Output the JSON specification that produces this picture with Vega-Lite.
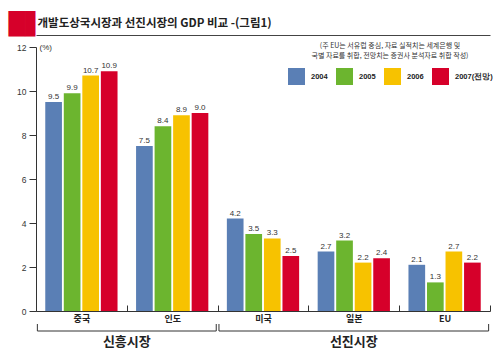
{
  "$schema": "https://vega.github.io/schema/vega-lite/v6.json",
  "background": "white",
  "padding": {"left": 8, "top": 13, "right": 6, "bottom": 0},
  "config": {
    "font": "Noto Sans CJK KR",
    "view": {"stroke": null},
    "concat": {"spacing": 0}
  },
  "vconcat": [
    {
      "width": 454,
      "height": 264,
      "data": {
        "values": [
          {"country": "중국", "year": "2004", "value": 9.5},
          {"country": "중국", "year": "2005", "value": 9.9},
          {"country": "중국", "year": "2006", "value": 10.7},
          {"country": "중국", "year": "2007(전망)", "value": 10.9},
          {"country": "인도", "year": "2004", "value": 7.5},
          {"country": "인도", "year": "2005", "value": 8.4},
          {"country": "인도", "year": "2006", "value": 8.9},
          {"country": "인도", "year": "2007(전망)", "value": 9.0},
          {"country": "미국", "year": "2004", "value": 4.2},
          {"country": "미국", "year": "2005", "value": 3.5},
          {"country": "미국", "year": "2006", "value": 3.3},
          {"country": "미국", "year": "2007(전망)", "value": 2.5},
          {"country": "일본", "year": "2004", "value": 2.7},
          {"country": "일본", "year": "2005", "value": 3.2},
          {"country": "일본", "year": "2006", "value": 2.2},
          {"country": "일본", "year": "2007(전망)", "value": 2.4},
          {"country": "EU", "year": "2004", "value": 2.1},
          {"country": "EU", "year": "2005", "value": 1.3},
          {"country": "EU", "year": "2006", "value": 2.7},
          {"country": "EU", "year": "2007(전망)", "value": 2.2}
        ]
      },
      "layer": [
        {
          "mark": {"type": "bar"},
          "encoding": {
            "x": {
              "field": "country",
              "type": "nominal",
              "sort": null,
              "scale": {"domain": ["중국", "인도", "미국", "일본", "EU"], "paddingInner": 0, "paddingOuter": 0},
              "axis": {
                "orient": "bottom",
                "labelAngle": 0,
                "labelFontSize": 9,
                "labelFontWeight": "bold",
                "labelColor": "#222",
                "domainColor": "#333",
                "tickColor": "#333",
                "tickBand": "extent",
                "tickSize": -6,
                "labelPadding": 9,
                "title": "개발도상국시장과 선진시장의 GDP 비교 -(그림1)",
                "titleFont": "Noto Sans CJK KR",
                "titleFontSize": 11.5,
                "titleFontWeight": "bold",
                "titleColor": "#222",
                "titleAlign": "left",
                "titleBaseline": "middle",
                "titleX": 1,
                "titleY": -287.7
              }
            },
            "xOffset": {
              "field": "year",
              "type": "nominal",
              "scale": {"domain": ["2004", "2005", "2006", "2007(전망)"], "paddingInner": 0.1, "paddingOuter": 0.5}
            },
            "y": {
              "field": "value",
              "type": "quantitative",
              "scale": {"domain": [0, 12]},
              "axis": {
                "orient": "left",
                "values": [0, 2, 4, 6, 8, 10, 12],
                "grid": false,
                "domainColor": "#333",
                "tickColor": "#333",
                "tickSize": 7,
                "labelPadding": 3,
                "labelFont": "Liberation Sans",
                "labelFontSize": 8.5,
                "labelColor": "#333",
                "title": "(%)",
                "titleFont": "Liberation Sans",
                "titleAngle": 0,
                "titleAlign": "left",
                "titleBaseline": "middle",
                "titleX": 3,
                "titleY": 0,
                "titleFontSize": 8,
                "titleFontWeight": "normal",
                "titleColor": "#333"
              }
            },
            "color": {
              "field": "year",
              "type": "nominal",
              "scale": {
                "domain": ["2004", "2005", "2006", "2007(전망)"],
                "range": ["#5a7fb5", "#6cb52f", "#f7c200", "#d6002a"]
              },
              "legend": {
                "orient": "none",
                "legendX": 252,
                "legendY": -5,
                "direction": "horizontal",
                "title": ["(주 EU는 서유럽 중심, 자료 실적치는 세계은행 및", "국별 자료를 취합, 전망치는 증권사 분석자료 취합 작성)"],
                "titleFontSize": 7,
                "titleFontWeight": "normal",
                "titleColor": "#333",
                "titleAnchor": "middle",
                "titleAlign": "center",
                "titleLineHeight": 10,
                "titlePadding": 9,
                "titleLimit": 300,
                "symbolType": "square",
                "symbolSize": 289,
                "symbolStrokeWidth": 0,
                "symbolOpacity": 1,
                "labelFont": "Liberation Sans",
                "labelFontSize": 7.5,
                "labelFontWeight": "bold",
                "labelColor": "#222",
                "labelOffset": 6,
                "columnPadding": 8,
                "padding": 0
              }
            }
          }
        },
        {
          "mark": {"type": "text", "dy": -5, "fontSize": 8, "font": "Liberation Sans", "color": "#333"},
          "encoding": {
            "x": {
              "field": "country",
              "type": "nominal",
              "sort": null,
              "axis": {"orient": "top", "title": null, "labels": false, "ticks": false, "grid": false, "domain": true, "domainColor": "#444", "offset": 12}
            },
            "xOffset": {"field": "year", "type": "nominal"},
            "y": {
              "field": "value",
              "type": "quantitative",
              "axis": {
                "orient": "right",
                "labels": false,
                "ticks": false,
                "domain": false,
                "grid": false,
                "title": "█▋",
                "titleFont": "DejaVu Sans",
                "titleFontSize": 21.5,
                "titleFontWeight": "normal",
                "titleColor": "#d6002a",
                "titleAngle": 0,
                "titleAlign": "left",
                "titleBaseline": "alphabetic",
                "titleX": -482,
                "titleY": -16.7
              }
            },
            "text": {"field": "value", "type": "quantitative", "format": ".1f"}
          }
        }
      ]
    },
    {
      "width": 454,
      "height": 24,
      "data": {
        "values": [
          {"group": "신흥시장", "from": "중국", "to": "인도"},
          {"group": "선진시장", "from": "미국", "to": "EU"}
        ]
      },
      "layer": [
        {
          "mark": {"type": "rule", "color": "#333"},
          "encoding": {
            "x": {
              "field": "from",
              "type": "nominal",
              "bandPosition": 0.015,
              "scale": {"domain": ["중국", "인도", "미국", "일본", "EU"], "paddingInner": 0, "paddingOuter": 0},
              "axis": null
            },
            "x2": {"field": "to", "bandPosition": 0.985},
            "y": {"datum": 16, "type": "quantitative", "scale": {"domain": [0, 24]}, "axis": null}
          }
        },
        {
          "mark": {"type": "rule", "color": "#333"},
          "encoding": {
            "x": {"field": "from", "type": "nominal", "bandPosition": 0.015},
            "y": {"datum": 16, "type": "quantitative"},
            "y2": {"datum": 23}
          }
        },
        {
          "mark": {"type": "rule", "color": "#333"},
          "encoding": {
            "x": {"field": "to", "type": "nominal", "bandPosition": 0.985},
            "y": {"datum": 16, "type": "quantitative"},
            "y2": {"datum": 23}
          }
        },
        {
          "transform": [{"filter": "datum.group === '신흥시장'"}],
          "mark": {"type": "text", "fontSize": 13, "fontWeight": "bold", "color": "#222", "baseline": "middle"},
          "encoding": {
            "x": {"field": "from", "type": "nominal", "bandPosition": 1},
            "y": {"datum": 5, "type": "quantitative"},
            "text": {"field": "group"}
          }
        },
        {
          "transform": [{"filter": "datum.group === '선진시장'"}],
          "mark": {"type": "text", "fontSize": 13, "fontWeight": "bold", "color": "#222", "baseline": "middle"},
          "encoding": {
            "x": {"field": "to", "type": "nominal", "bandPosition": -0.5},
            "y": {"datum": 5, "type": "quantitative"},
            "text": {"field": "group"}
          }
        }
      ]
    }
  ]
}
